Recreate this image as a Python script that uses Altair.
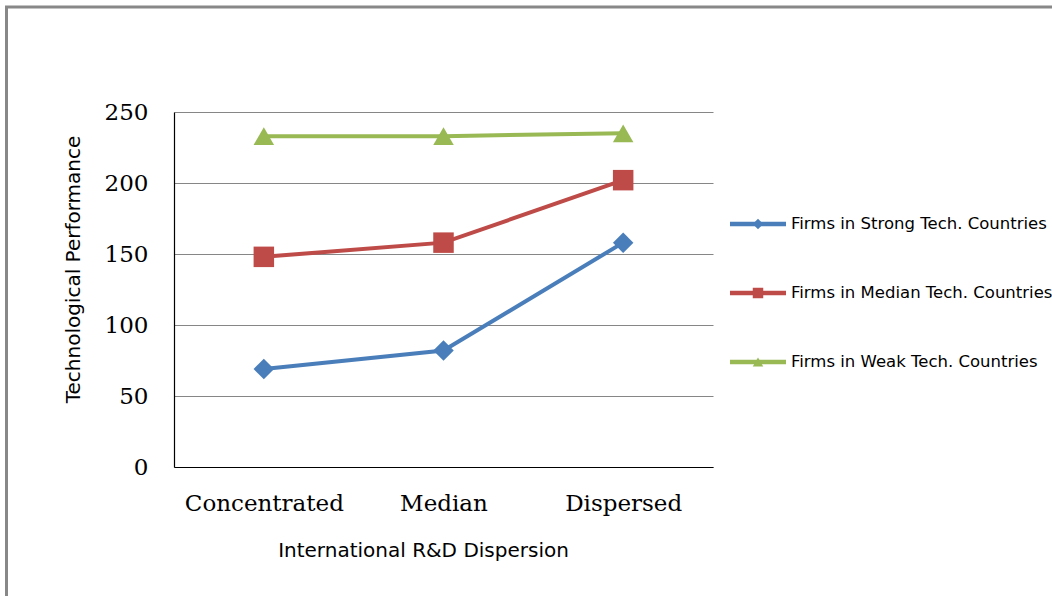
import altair as alt
import pandas as pd

# Levels of international R&D dispersion (x axis categories)
dispersion = ["Concentrated", "Median", "Dispersed"]

# Series names and their technological performance values
series = [
    "Firms in Strong Tech. Countries",
    "Firms in Median Tech. Countries",
    "Firms in Weak Tech. Countries",
]
strong_vals = [69, 82, 158]
median_vals = [148, 158, 202]
weak_vals = [233, 233, 235]

colors = ["#4A7EBB", "#BE4B48", "#98B954"]
shapes = ["diamond", "square", "triangle-up"]
y_ticks = [0, 50, 100, 150, 200, 250]

rows = []
for name, vals in zip(series, [strong_vals, median_vals, weak_vals]):
    for cat, v in zip(dispersion, vals):
        rows.append({"dispersion": cat, "series": name, "value": v})
df = pd.DataFrame(rows)
legend_df = pd.DataFrame({"series": series})

W, H = 539, 355
LEFT, TOP = 174, 112

color_scale = alt.Scale(domain=series, range=colors)
shape_scale = alt.Scale(domain=series, range=shapes)

x_enc = alt.X(
    "dispersion:N",
    sort=dispersion,
    scale=alt.Scale(type="point", padding=0.5),
    axis=alt.Axis(
        title="International R&D Dispersion",
        labelAngle=0,
        labelFont="DejaVu Serif",
        labelFontSize=23,
        labelColor="#000000",
        labelPadding=25,
        ticks=False,
        domainColor="#000000",
        domainWidth=1.2,
        titleFont="DejaVu Sans",
        titleFontSize=20,
        titleFontWeight="normal",
        titleColor="#000000",
        titleX=249,
        titleY=83,
        titleBaseline="middle",
        titleAlign="center",
    ),
)
y_enc = alt.Y(
    "value:Q",
    scale=alt.Scale(domain=[0, 250], nice=False),
    axis=alt.Axis(
        title="Technological Performance",
        values=y_ticks,
        labelFont="DejaVu Serif",
        labelFontSize=23,
        labelColor="#000000",
        labelPadding=26,
        ticks=False,
        domainColor="#000000",
        domainWidth=1.2,
        gridColor="#868686",
        gridWidth=1.2,
        titleFont="DejaVu Sans",
        titleFontSize=20,
        titleFontWeight="normal",
        titleColor="#000000",
        titleAngle=-90,
        titleX=-101,
        titleY=157,
        titleBaseline="middle",
        titleAlign="center",
    ),
)

lines = alt.Chart(df).mark_line(strokeWidth=4).encode(
    x=x_enc,
    y=y_enc,
    color=alt.Color("series:N", scale=color_scale, legend=None),
    detail="series:N",
)
points = alt.Chart(df).mark_point(filled=True, size=420, opacity=1).encode(
    x=alt.X("dispersion:N", sort=dispersion, scale=alt.Scale(type="point", padding=0.5)),
    y=alt.Y("value:Q"),
    color=alt.Color("series:N", scale=color_scale, legend=None),
    shape=alt.Shape("series:N", scale=shape_scale, legend=None),
)
plot = alt.layer(lines, points)

# Legend drawn to the right of the plot area
leg_y = alt.Y(
    "series:N",
    sort=series,
    scale=alt.Scale(type="point", domain=series, range=[112, 250], padding=0),
    axis=None,
)
leg_line = alt.Chart(legend_df).mark_rule(strokeWidth=4.5).encode(
    x=alt.value(556),
    x2=alt.value(612),
    y=leg_y,
    color=alt.Color("series:N", scale=color_scale, legend=None),
)
leg_pt = alt.Chart(legend_df).mark_point(filled=True, size=110, opacity=1).encode(
    x=alt.value(584),
    y=leg_y,
    color=alt.Color("series:N", scale=color_scale, legend=None),
    shape=alt.Shape("series:N", scale=shape_scale, legend=None),
)
leg_txt = alt.Chart(legend_df).mark_text(
    align="left", baseline="middle", font="DejaVu Sans", fontSize=16.5, color="#000000"
).encode(
    x=alt.value(617),
    y=leg_y,
    text="series:N",
)
legend = alt.layer(leg_line, leg_pt, leg_txt)

# Outer frame around the whole chart
frame = alt.Chart(legend_df.head(1)).mark_rect(
    fill=None, stroke="#888888", strokeWidth=3
).encode(
    x=alt.value(6 - LEFT + 0.5),
    x2=alt.value(1060 - LEFT),
    y=alt.value(7 - TOP),
    y2=alt.value(605 - TOP),
)

chart = (
    alt.layer(plot, legend, frame)
    .resolve_scale(y="independent")
    .properties(
        width=W,
        height=H,
        padding={"left": LEFT, "top": TOP, "right": 1052 - LEFT - W, "bottom": 596 - TOP - H},
        autosize=alt.AutoSizeParams(type="none"),
        background="#ffffff",
    )
    .configure_view(stroke=None)
)

chart.save("out.html", embed_options={"renderer": "svg", "actions": False})
